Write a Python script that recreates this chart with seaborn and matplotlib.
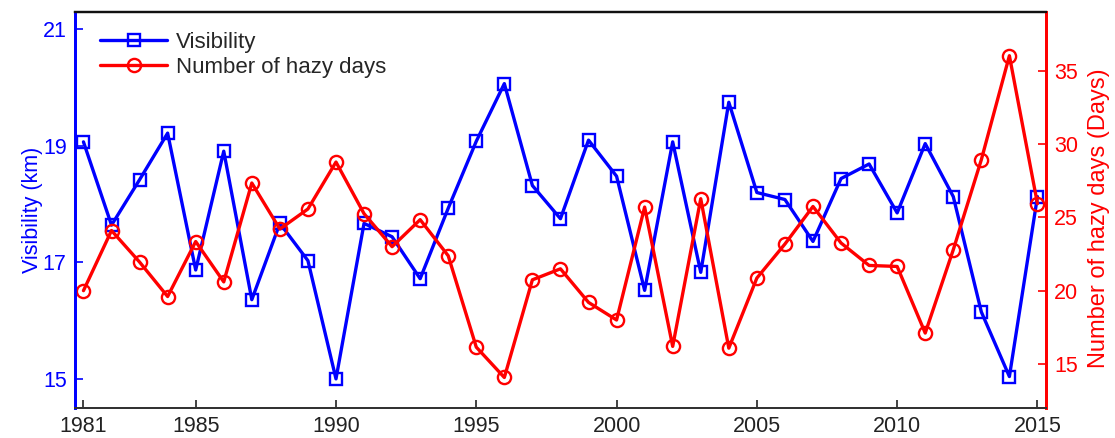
import numpy as np
import pandas as pd
import matplotlib
matplotlib.use("Agg")
import matplotlib.pyplot as plt
import seaborn as sns

sns.set_style("ticks")
plt.rcParams["font.family"] = ["Liberation Sans", "DejaVu Sans"]

# data
years = list(range(1981, 2016))
visibility = [19.07, 17.64, 18.42, 19.22, 16.87, 18.91, 16.36, 17.67, 17.03, 15.00,
              17.67, 17.44, 16.72, 17.93, 19.08, 20.07, 18.32, 17.75, 19.10, 18.48,
              16.52, 19.07, 16.83, 19.75, 18.20, 18.08, 17.36, 18.44, 18.69, 17.85,
              19.04, 18.13, 16.15, 15.04, 18.13]
hazy_days = [20.0, 24.1, 21.95, 19.6, 23.35, 20.6, 27.34, 24.2, 25.57, 28.77,
             25.25, 23.0, 24.84, 22.38, 16.15, 14.08, 20.74, 21.49, 19.2, 18.0,
             25.7, 16.2, 26.27, 16.08, 20.86, 23.18, 25.74, 23.25, 21.72, 21.65,
             17.11, 22.79, 28.93, 36.02, 25.93]
x_ticks = [1981, 1985, 1990, 1995, 2000, 2005, 2010, 2015]
left_ticks = [15, 17, 19, 21]
right_ticks = [15, 20, 25, 30, 35]

df = pd.DataFrame({"year": years, "vis": visibility, "haze": hazy_days})

blue = "#0000ff"
red = "#ff0000"

fig = plt.figure(figsize=(11.15, 4.38), dpi=100)
ax = fig.add_axes([0.0673, 0.0685, 0.8707, 0.9041])
ax2 = ax.twinx()

sns.lineplot(data=df, x="year", y="vis", ax=ax, color=blue, lw=2.4,
             marker="s", markersize=8.5, markerfacecolor="none",
             markeredgecolor=blue, markeredgewidth=1.7, label="Visibility",
             legend=False)
sns.lineplot(data=df, x="year", y="haze", ax=ax2, color=red, lw=2.4,
             marker="o", markersize=9.5, markerfacecolor="none",
             markeredgecolor=red, markeredgewidth=1.7,
             label="Number of hazy days", legend=False)

ax.set_xlim(1980.7, 2015.3)
ax.set_ylim(14.5, 21.3)
ax2.set_ylim(12, 39)
ax.set_xticks(x_ticks)
ax.set_yticks(left_ticks)
ax2.set_yticks(right_ticks)

ax.set_xlabel("")
ax.set_ylabel("Visibility (km)", color=blue, fontsize=15.5, labelpad=0)
ax2.set_ylabel("Number of hazy days (Days)", color=red, fontsize=17)
ax2.yaxis.set_label_coords(1.043, 0.48)

ax.tick_params(axis="x", direction="in", length=6, width=1.2, labelsize=15.5,
               colors="#222222", pad=6)
ax.tick_params(axis="y", direction="in", length=6, width=1.2, labelsize=15.5,
               colors=blue, pad=6)
ax2.tick_params(axis="y", direction="in", length=6, width=1.2, labelsize=15.5,
                colors=red, pad=6)

for a in (ax, ax2):
    a.spines["top"].set_color("#111111")
    a.spines["top"].set_linewidth(1.6)
    a.spines["bottom"].set_color("#333333")
    a.spines["bottom"].set_linewidth(1.4)
    a.spines["left"].set_color(blue)
    a.spines["left"].set_linewidth(2.0)
    a.spines["right"].set_color(red)
    a.spines["right"].set_linewidth(2.0)

h1, l1 = ax.get_legend_handles_labels()
h2, l2 = ax2.get_legend_handles_labels()
ax.legend(h1 + h2, l1 + l2, loc="upper left", frameon=False, fontsize=16,
          handlelength=3.0, handletextpad=0.4, labelspacing=0.2,
          borderaxespad=0.3, bbox_to_anchor=(0.01, 0.99))

fig.savefig("out.png", dpi=100)
